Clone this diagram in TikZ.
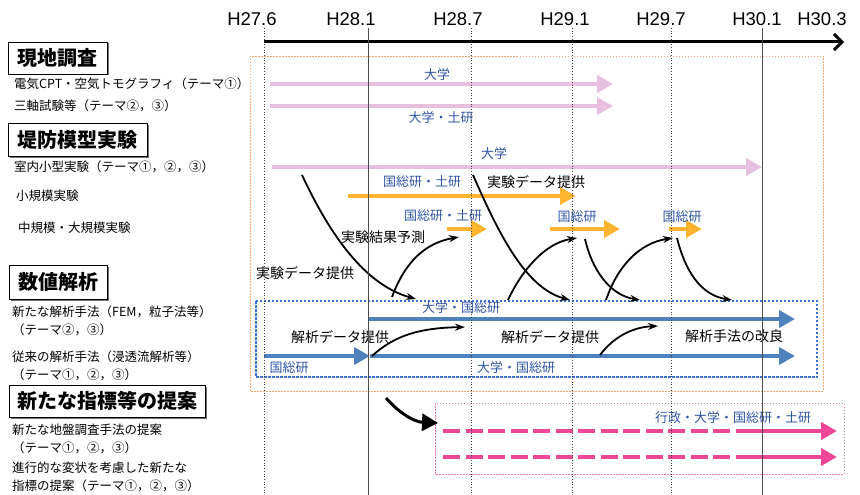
\documentclass[tikz,border=0pt]{standalone}
\usepackage{fontspec}
\setmainfont{Liberation Sans}
\newfontfamily\jp{Noto Sans CJK JP}
\usetikzlibrary{arrows.meta,shadows}

\begin{document}
\begin{tikzpicture}[x=1pt,y=-1pt,
  grid_dot/.style={line width=0.7pt,dotted,color=black!75},
  grid_solid/.style={line width=0.8pt,color=black!70},
  axis_lbl/.style={font=\fontsize{18.5}{20}\selectfont},
  head_box/.style={draw,line width=0.8pt,fill=white,inner sep=0pt,
    drop shadow={shadow xshift=1.5pt,shadow yshift=-1.5pt,fill=black!55,opacity=1},
    font=\jp\bfseries\fontsize{20}{22}\selectfont},
  item_lbl/.style={anchor=west,inner sep=0pt,align=left,font=\jp\fontsize{12.5}{18}\selectfont},
  who_lbl/.style={inner sep=0pt,text=sc_text,font=\jp\fontsize{13}{15}\selectfont},
  note_lbl/.style={inner sep=0pt,font=\jp\fontsize{14}{16}\selectfont},
  bar_tip/.style={-{Triangle[length=16pt,width=17pt]}},
  pink_bar/.style={bar_tip,line width=4.5pt,color=sc_pink},
  orange_bar/.style={bar_tip,line width=4pt,color=sc_orange},
  blue_bar/.style={bar_tip,line width=4pt,color=sc_blue},
  mag_bar/.style={bar_tip,line width=4pt,color=sc_magenta},
  flow/.style={line width=1.8pt,-{Stealth[length=10pt,width=7pt]}},
]

% ------------------------------------------------ schedule colours
\definecolor{sc_pink}{RGB}{230,192,222}
\definecolor{sc_orange}{RGB}{255,180,48}
\definecolor{sc_blue}{RGB}{79,129,189}
\definecolor{sc_frame}{RGB}{60,110,215}
\definecolor{sc_text}{RGB}{47,85,165}
\definecolor{sc_magenta}{RGB}{236,72,150}
\definecolor{sc_peach}{RGB}{244,164,110}
\definecolor{sc_rose}{RGB}{240,120,190}

\useasboundingbox (0,0) rectangle (860,495);

% ------------------------------------------------ time axis
\draw[line width=3pt,-{Straight Barb[length=8pt,width=16pt]}] (264,42) -- (844,42);
\node[axis_lbl] (t_276) at (252,19) {H27.6};
\node[axis_lbl] (t_281) at (351,19) {H28.1};
\node[axis_lbl] (t_287) at (458,19) {H28.7};
\node[axis_lbl] (t_291) at (565,19) {H29.1};
\node[axis_lbl] (t_297) at (661,19) {H29.7};
\node[axis_lbl] (t_301) at (757,19) {H30.1};
\node[axis_lbl] (t_303) at (822,19) {H30.3};

% ------------------------------------------------ group frames
\draw[color=sc_peach,line width=0.9pt,dash pattern=on 1.5pt off 1.5pt] (250,56) rectangle (823,391);
\draw[color=sc_frame,line width=1.1pt,dash pattern=on 2.5pt off 1.5pt] (256,301) rectangle (817,377);
\draw[color=sc_rose,line width=0.9pt,dash pattern=on 1.5pt off 1.5pt] (435,403) rectangle (844,474);

% ------------------------------------------------ headings and items
\node[head_box,minimum width=99pt,minimum height=32pt]  (h_survey)  at (57.5,58)  {現地調査};
\node[head_box,minimum width=139pt,minimum height=33pt] (h_model)   at (77.5,139.5) {堤防模型実験};
\node[head_box,minimum width=98pt,minimum height=34pt]  (h_numeric) at (58,282)   {数値解析};
\node[head_box,minimum width=196pt,minimum height=32pt] (h_index)   at (107,401)  {新たな指標等の提案};

\node[item_lbl] (i_cpt)    at (14,84)  {電気CPT・空気トモグラフィ（テーマ①）};
\node[item_lbl] (i_triax)  at (14,106) {三軸試験等（テーマ②，③）};
\node[item_lbl] (i_lab)    at (14,167) {室内小型実験（テーマ①，②，③）};
\node[item_lbl] (i_small)  at (16,196) {小規模実験};
\node[item_lbl] (i_large)  at (18,228) {中規模・大規模実験};
\node[item_lbl] (i_newfem) at (12,321) {新たな解析手法（FEM，粒子法等）\\（テーマ②，③）};
\node[item_lbl] (i_seep)   at (12,366) {従来の解析手法（浸透流解析等）\\（テーマ①，②，③）};
\node[item_lbl] (i_ground) at (12,439) {新たな地盤調査手法の提案\\（テーマ①，②，③）};
\node[item_lbl] (i_deform) at (12,477) {進行的な変状を考慮した新たな\\指標の提案（テーマ①，②，③）};

% ------------------------------------------------ work bars
\draw[pink_bar] (270,84) -- (613,84);
\draw[pink_bar] (270,106) -- (613,106);
\draw[pink_bar] (272,167) -- (762,167);
\draw[orange_bar] (348,196) -- (576,196);
\draw[orange_bar] (447,229) -- (487,229);
\draw[orange_bar] (550,229) -- (620,229);
\draw[orange_bar] (669,229) -- (702,229);
\draw[blue_bar] (368,319) -- (795,319);
\draw[blue_bar] (264,356) -- (370,356);
\draw[blue_bar] (370,356) -- (795,356);
\draw[color=sc_magenta,line width=4pt,dash pattern=on 17pt off 5.5pt] (443,431) -- (752,431);
\draw[mag_bar] (752,431) -- (837,431);
\draw[color=sc_magenta,line width=4pt,dash pattern=on 17pt off 5.5pt] (443,457) -- (752,457);
\draw[mag_bar] (752,457) -- (837,457);

% ------------------------------------------------ who does it
\node[who_lbl] (w_univ1)  at (437,75)  {大学};
\node[who_lbl] (w_univ2)  at (441,118) {大学・土研};
\node[who_lbl] (w_univ3)  at (494,154) {大学};
\node[who_lbl] (w_nilim1) at (422,182) {国総研・土研};
\node[who_lbl] (w_nilim2) at (443,216) {国総研・土研};
\node[who_lbl] (w_nilim3) at (577,217) {国総研};
\node[who_lbl] (w_nilim4) at (682,217) {国総研};
\node[who_lbl] (w_ana1)   at (461,308) {大学・国総研};
\node[who_lbl] (w_ana2)   at (289,368) {国総研};
\node[who_lbl] (w_ana3)   at (516,368) {大学・国総研};
\node[who_lbl] (w_admin)  at (733,418) {行政・大学・国総研・土研};

\node[note_lbl] (n_data1) at (536,182) {実験データ提供};
\node[note_lbl] (n_pred)  at (383,237) {実験結果予測};
\node[note_lbl] (n_data2) at (305,273) {実験データ提供};
\node[note_lbl] (n_ana1)  at (340,337) {解析データ提供};
\node[note_lbl] (n_ana2)  at (550,337) {解析データ提供};
\node[note_lbl] (n_impr)  at (734,336) {解析手法の改良};

% ------------------------------------------------ data exchange
\coordinate (lab_out)  at (302,175);
\coordinate (ana_in1)  at (416,299);
\coordinate (ana_out1) at (392,297);
\coordinate (mid_in1)  at (459,237);
\coordinate (sml_out)  at (473,175);
\coordinate (ana_in2)  at (570,300);
\coordinate (ana_out2) at (508,300);
\coordinate (mid_in2)  at (577,238);
\coordinate (mid_out2) at (585,239);
\coordinate (ana_in3)  at (640,300);
\coordinate (ana_out3) at (606,300);
\coordinate (mid_in3)  at (673,238);
\coordinate (mid_out3) at (677,238);
\coordinate (ana_in4)  at (732,300);
\coordinate (old_out1) at (372,356);
\coordinate (new_in1)  at (465,327);
\coordinate (old_out2) at (600,355);
\coordinate (new_in2)  at (658,326);
\coordinate (res_out)  at (386,398);
\coordinate (idx_in)   at (438,423);

\draw[flow] (lab_out) .. controls (330,235) and (365,285) .. (ana_in1);
\draw[flow] (ana_out1) .. controls (405,262) and (425,243) .. (mid_in1);
\draw[flow] (sml_out) .. controls (498,232) and (525,288) .. (ana_in2);
\draw[flow] (ana_out2) .. controls (522,270) and (545,243) .. (mid_in2);
\draw[flow] (mid_out2) .. controls (592,270) and (610,295) .. (ana_in3);
\draw[flow] (ana_out3) .. controls (618,265) and (640,243) .. (mid_in3);
\draw[flow] (mid_out3) .. controls (685,270) and (700,295) .. (ana_in4);
\draw[flow] (old_out1) .. controls (395,335) and (420,328) .. (new_in1);
\draw[flow] (old_out2) .. controls (615,335) and (635,327) .. (new_in2);
\draw[line width=3pt,-{Triangle[length=16pt,width=17pt]}] (res_out) .. controls (400,414) and (415,422) .. (idx_in);

% ------------------------------------------------ time grid
\foreach \gx in {264,471,572,671}
  \draw[grid_dot] (\gx,28) -- (\gx,495);
\foreach \gx in {368,762}
  \draw[grid_solid] (\gx,28) -- (\gx,495);

\end{tikzpicture}
\end{document}
